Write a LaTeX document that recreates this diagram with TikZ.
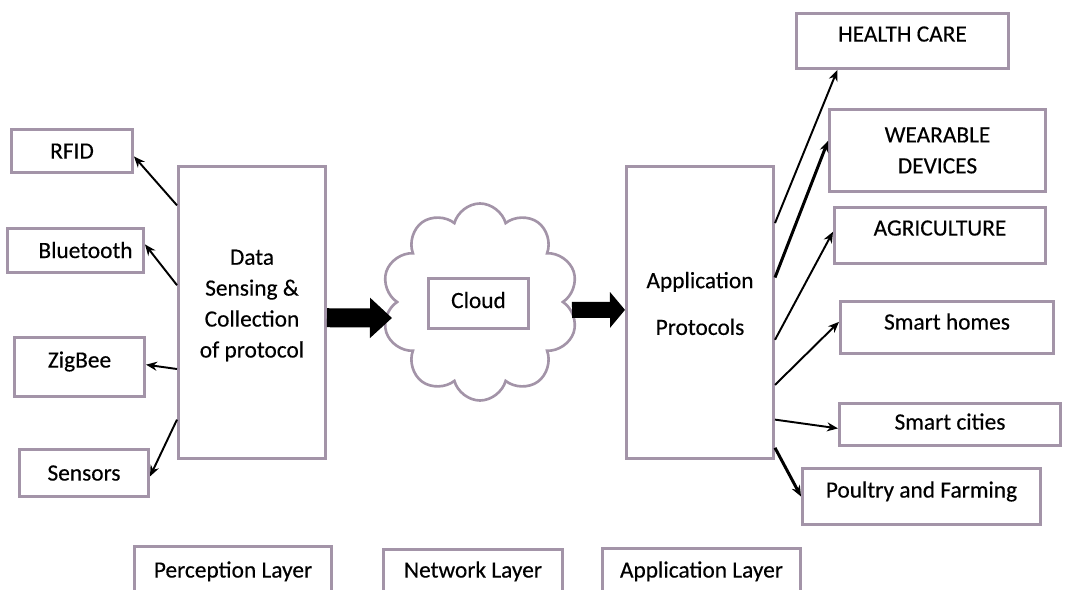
\documentclass[tikz,border=0pt]{standalone}
\usepackage{fontspec}
\setmainfont{Carlito}[UprightFeatures={FakeBold=0.35}]
\usetikzlibrary{shapes.symbols, arrows.meta, calc}
\definecolor{bd}{RGB}{163, 148, 168}
\definecolor{k}{HTML}{000000}
\tikzset{
    box/.style={draw=bd, line width=0.06cm, inner sep=0pt},
    item/.style={box, text height=8.6pt, text depth=#1},
    item/.default=0pt,
    boxsize/.style 2 args={minimum width=#1*0.02cm, minimum height=#2*0.02cm},
    arrow/.style={-{Stealth[length=0.22cm,width=0.18cm]}, line width=1.1pt, k},
    thickarrow/.style={arrow, line width=1.7pt},
    blockarrow/.style={k, line width=#1}
}

\begin{document}
\begin{tikzpicture}[x=0.02cm, y=-0.02cm, font=\fontsize{13.3}{17.6}\selectfont]
			\useasboundingbox (0,0) rectangle (1065,590);
			\node[item, boxsize={121}{43}] (rfid) at (72,151) {RFID};
			\node[item, boxsize={136}{44}] (bluetooth) at (75.5,250.5) {\hspace*{0.4cm}Bluetooth};
			\node[item=0.28cm, boxsize={130}{59}] (zigbee) at (79.5,367) {ZigBee};
			\node[item, boxsize={129}{47}] (sensors) at (84,473) {Sensors};
			\node[box, boxsize={147}{292}, label={[align=center, yshift=0.14cm]center:{Data\\Sensing \&\\Collection\\of protocol}}] (data) at (252,312.5) {};
			\node[cloud, draw=bd, line width=1.5pt, cloud puffs=10, aspect=1, minimum width=197*0.02cm, minimum height=197*0.02cm] (cloud) at (480,302) {};
			\node[item=0.12cm, boxsize={100}{50}] (cloudbox) at (478.5,303.5) {Cloud};
			\node[box, boxsize={147}{292}, label={[align=center, yshift=0.18cm]center:{Application\\[9pt]Protocols}}] (app) at (700,312.5) {};
			\node[item=0.28cm, boxsize={212}{55}] (health) at (902.5,41) {HEALTH CARE};
			\node[box, align=center, boxsize={216}{82}] (wear) at (937.5,150.5) {WEARABLE\\DEVICES};
			\node[item=0.3cm, boxsize={211}{56}] (agri) at (940,235.5) {AGRICULTURE};
			\node[item=0.22cm, boxsize={213}{52}] (homes) at (947,327.5) {Smart homes};
			\node[item=0.1cm, boxsize={221}{42}] (cities) at (950,424.5) {Smart cities};
			\node[item=0.26cm, boxsize={238}{56}] (poultry) at (921.5,496.5) {Poultry and Farming};
			\node[item=0.2cm, boxsize={197}{57}] (perception) at (233,575) {Perception Layer};
			\node[item=0.26cm, boxsize={179}{54}] (network) at (473,576.5) {Network Layer};
			\node[item=0.24cm, boxsize={198}{55}] (applayer) at (701.5,576) {Application Layer};
			\draw[arrow] (data.125) -- (rfid.-5);
			\draw[arrow] (data.160) -- (bluetooth.5);
			\draw[arrow] (data.217) -- (zigbee.2);
			\draw[arrow] (data.235) -- (sensors.-3);
			\draw[blockarrow=0.38cm, -{Triangle[length=0.44cm,width=0.78cm]}] (data.-4) -- ($(cloud.center)+(-88,16)$);
			\draw[blockarrow=0.32cm, -{Triangle[length=0.3cm,width=0.7cm]}] ($(cloud.center)+(92,8)$) -- (app.178);
			\draw[arrow] (app.50) -- (health.204);
			\draw[thickarrow] (app.25) -- (wear.175);
			\draw[arrow] (app.-20) -- (agri.178);
			\draw[arrow] (app.-44) -- (homes.177);
			\draw[arrow] (app.-55) -- (cities.182);
			\draw[thickarrow] (app.-61) -- (poultry.west);
		\end{tikzpicture}
\end{document}
